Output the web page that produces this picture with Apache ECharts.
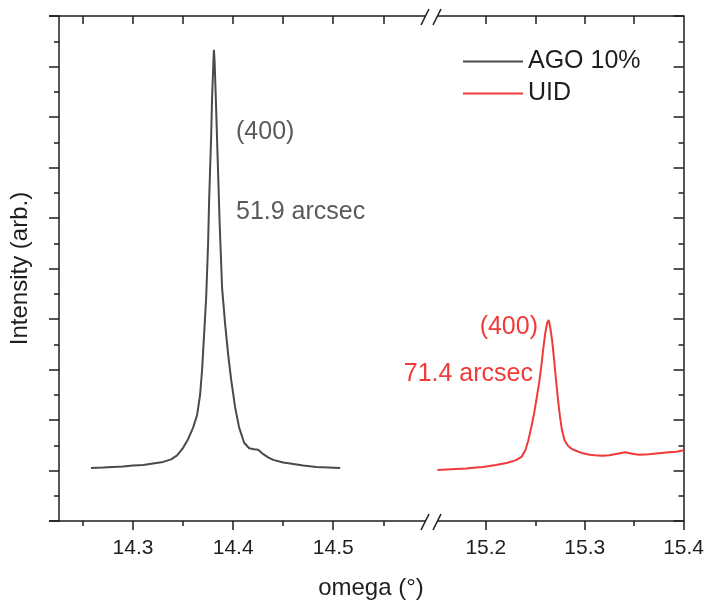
<!DOCTYPE html>
<html>
<head>
<meta charset="utf-8">
<script src="https://cdn.jsdelivr.net/npm/echarts@6/dist/echarts.min.js"></script>
<style>
  html, body { margin: 0; padding: 0; background: #fff; }
  #main { width: 707px; height: 603px; }
</style>
</head>
<body>
<div id="main"></div>
<script>
// AGO 10% scan (left part of the broken axis)
var agoOmega = [14.258, 14.27, 14.28, 14.29, 14.30, 14.31, 14.32, 14.33, 14.338, 14.344,
  14.35, 14.355, 14.36, 14.364, 14.367, 14.369, 14.371, 14.373, 14.375, 14.376,
  14.378, 14.379, 14.3802, 14.3808, 14.3815, 14.3828, 14.3845, 14.3865, 14.389, 14.392,
  14.395, 14.398, 14.402, 14.406, 14.411, 14.416, 14.421, 14.425, 14.429, 14.435,
  14.44, 14.45, 14.457, 14.47, 14.483, 14.495, 14.507];
var agoInt = [1.05, 1.06, 1.07, 1.08, 1.10, 1.11, 1.14, 1.17, 1.22, 1.30,
  1.45, 1.62, 1.85, 2.10, 2.50, 3.00, 3.70, 4.40, 5.50, 6.35,
  7.60, 8.40, 9.05, 9.33, 9.10, 8.30, 7.20, 5.90, 4.60, 3.90,
  3.30, 2.80, 2.25, 1.85, 1.55, 1.44, 1.42, 1.41, 1.34, 1.26,
  1.21, 1.16, 1.14, 1.10, 1.07, 1.06, 1.05];

// UID scan (right part of the broken axis)
var uidOmega = [15.151, 15.16, 15.17, 15.18, 15.19, 15.197, 15.21, 15.221, 15.23, 15.236,
  15.24, 15.243, 15.246, 15.249, 15.251, 15.254, 15.256, 15.258, 15.260, 15.262,
  15.2635, 15.265, 15.267, 15.269, 15.271, 15.273, 15.275, 15.277, 15.2796, 15.283,
  15.286, 15.29, 15.298, 15.305, 15.31, 15.318, 15.325, 15.333, 15.341, 15.348,
  15.355, 15.365, 15.375, 15.385, 15.393, 15.4];
var uidInt = [1.01, 1.02, 1.03, 1.04, 1.06, 1.07, 1.11, 1.15, 1.20, 1.27,
  1.40, 1.60, 1.86, 2.15, 2.39, 2.75, 3.05, 3.40, 3.71, 3.92,
  3.98, 3.85, 3.58, 3.20, 2.79, 2.40, 2.06, 1.80, 1.60, 1.49,
  1.44, 1.40, 1.34, 1.31, 1.30, 1.29, 1.30, 1.33, 1.36, 1.33,
  1.31, 1.32, 1.34, 1.36, 1.37, 1.40];

// tick labels
var leftTicks = [14.3, 14.4, 14.5];
var leftMinor = [14.25, 14.35, 14.45, 14.55];
var rightTicks = [15.2, 15.3, 15.4];
var rightMinor = [15.25, 15.35];

var seriesNames = ['AGO 10%', 'UID'];
var colors = ['#4a4a4a', '#f03a3a'];

var FONT = "'Liberation Sans', Arial, sans-serif";
var AXC = '#1e1e1e';

function pairs(xs, ys) {
  var out = [];
  for (var i = 0; i < xs.length; i++) out.push([xs[i], ys[i]]);
  return out;
}

function xAx(grid, min, max, pos, ticks, len, showLine, showLabel) {
  return {
    type: 'value', gridIndex: grid, min: min, max: max, position: pos,
    axisLine: { show: showLine, onZero: false, lineStyle: { color: AXC, width: 1.5 } },
    axisTick: { show: true, inside: pos === 'top', length: len, customValues: ticks,
      lineStyle: { color: AXC, width: 1.5 } },
    axisLabel: { show: showLabel, customValues: ticks, margin: 17, color: '#1e1e1e',
      fontSize: 21, fontFamily: FONT, formatter: function (v) { return v.toFixed(1); } },
    splitLine: { show: false }
  };
}

function yAx(grid, pos, inside) {
  return {
    type: 'value', gridIndex: grid, min: 0, max: 10, interval: 1, position: pos,
    axisLine: { show: true, onZero: false, lineStyle: { color: AXC, width: 1.5 } },
    axisTick: { show: true, inside: inside, length: 10, lineStyle: { color: AXC, width: 1.5 } },
    minorTick: { show: true, splitNumber: 2, length: 5, lineStyle: { color: AXC, width: 1.5 } },
    axisLabel: { show: false },
    splitLine: { show: false }
  };
}

var chart = echarts.init(document.getElementById('main'), null, { renderer: 'canvas' });

var yLeft = yAx(0, 'left', false);
yLeft.name = 'Intensity (arb.)';
yLeft.nameLocation = 'middle';
yLeft.nameGap = 27;
yLeft.nameTextStyle = { fontSize: 24, fontFamily: FONT, color: '#1e1e1e' };

function slash(x1, y1, x2, y2) {
  return { type: 'line', shape: { x1: x1, y1: y1, x2: x2, y2: y2 },
    style: { stroke: AXC, lineWidth: 1.5 }, z: 100 };
}
function breakMark(y) {
  return [
    { type: 'polygon', shape: { points: [[421, y + 9], [429, y - 7], [441, y - 7], [433, y + 9]] },
      style: { fill: '#fff' }, z: 99 },
    slash(421, y + 9, 429, y - 7),
    slash(433, y + 9, 441, y - 7)
  ];
}
function txt(x, y, s, color, align) {
  return { type: 'text', x: x, y: y, z: 50,
    style: { text: s, fill: color, fontSize: 25, fontFamily: FONT, align: align, verticalAlign: 'middle' } };
}

var option = {
  animation: false,
  grid: [
    { left: 59, right: 276, top: 16, bottom: 82 },
    { left: 431, right: 22, top: 16, bottom: 82 }
  ],
  xAxis: [
    xAx(0, 14.226, 14.5977, 'bottom', leftTicks, 9, true, true),
    xAx(0, 14.226, 14.5977, 'bottom', leftMinor, 5, false, false),
    xAx(0, 14.226, 14.5977, 'top', leftMinor.concat(leftTicks), 8, true, false),
    xAx(1, 15.1445, 15.4, 'bottom', rightTicks, 9, true, true),
    xAx(1, 15.1445, 15.4, 'bottom', rightMinor, 5, false, false),
    xAx(1, 15.1445, 15.4, 'top', rightMinor.concat([15.2, 15.3]), 8, true, false)
  ],
  yAxis: [yLeft, yAx(1, 'right', true)],
  legend: {
    orient: 'vertical', left: 463, top: 49, padding: 0, itemWidth: 60, itemHeight: 2, itemGap: 7,
    icon: 'rect',
    textStyle: { fontSize: 25, fontFamily: FONT, color: '#1e1e1e', lineHeight: 25 },
    data: seriesNames
  },
  series: [
    { name: seriesNames[0], type: 'line', xAxisIndex: 0, yAxisIndex: 0, showSymbol: false,
      color: colors[0], lineStyle: { width: 2, color: colors[0] }, data: pairs(agoOmega, agoInt) },
    { name: seriesNames[1], type: 'line', xAxisIndex: 3, yAxisIndex: 1, showSymbol: false,
      color: colors[1], lineStyle: { width: 2, color: colors[1] }, data: pairs(uidOmega, uidInt) }
  ],
  graphic: [].concat(
    breakMark(16),
    breakMark(521),
    [
      { type: 'line', shape: { x1: 49, y1: 16, x2: 59, y2: 16 }, style: { stroke: AXC, lineWidth: 1.5 } },
      { type: 'line', shape: { x1: 49, y1: 521, x2: 59, y2: 521 }, style: { stroke: AXC, lineWidth: 1.5 } },
      txt(236, 132, '(400)', '#5a5a5a', 'left'),
      txt(236, 212, '51.9 arcsec', '#5a5a5a', 'left'),
      txt(538, 327, '(400)', '#f03a3a', 'right'),
      txt(533, 374, '71.4 arcsec', '#f03a3a', 'right'),
      { type: 'text', x: 371, y: 588, style: { text: 'omega (°)', fill: '#1e1e1e', fontSize: 24,
        fontFamily: FONT, align: 'center', verticalAlign: 'middle' } }
    ]
  )
};

chart.setOption(option);
</script>
</body>
</html>
